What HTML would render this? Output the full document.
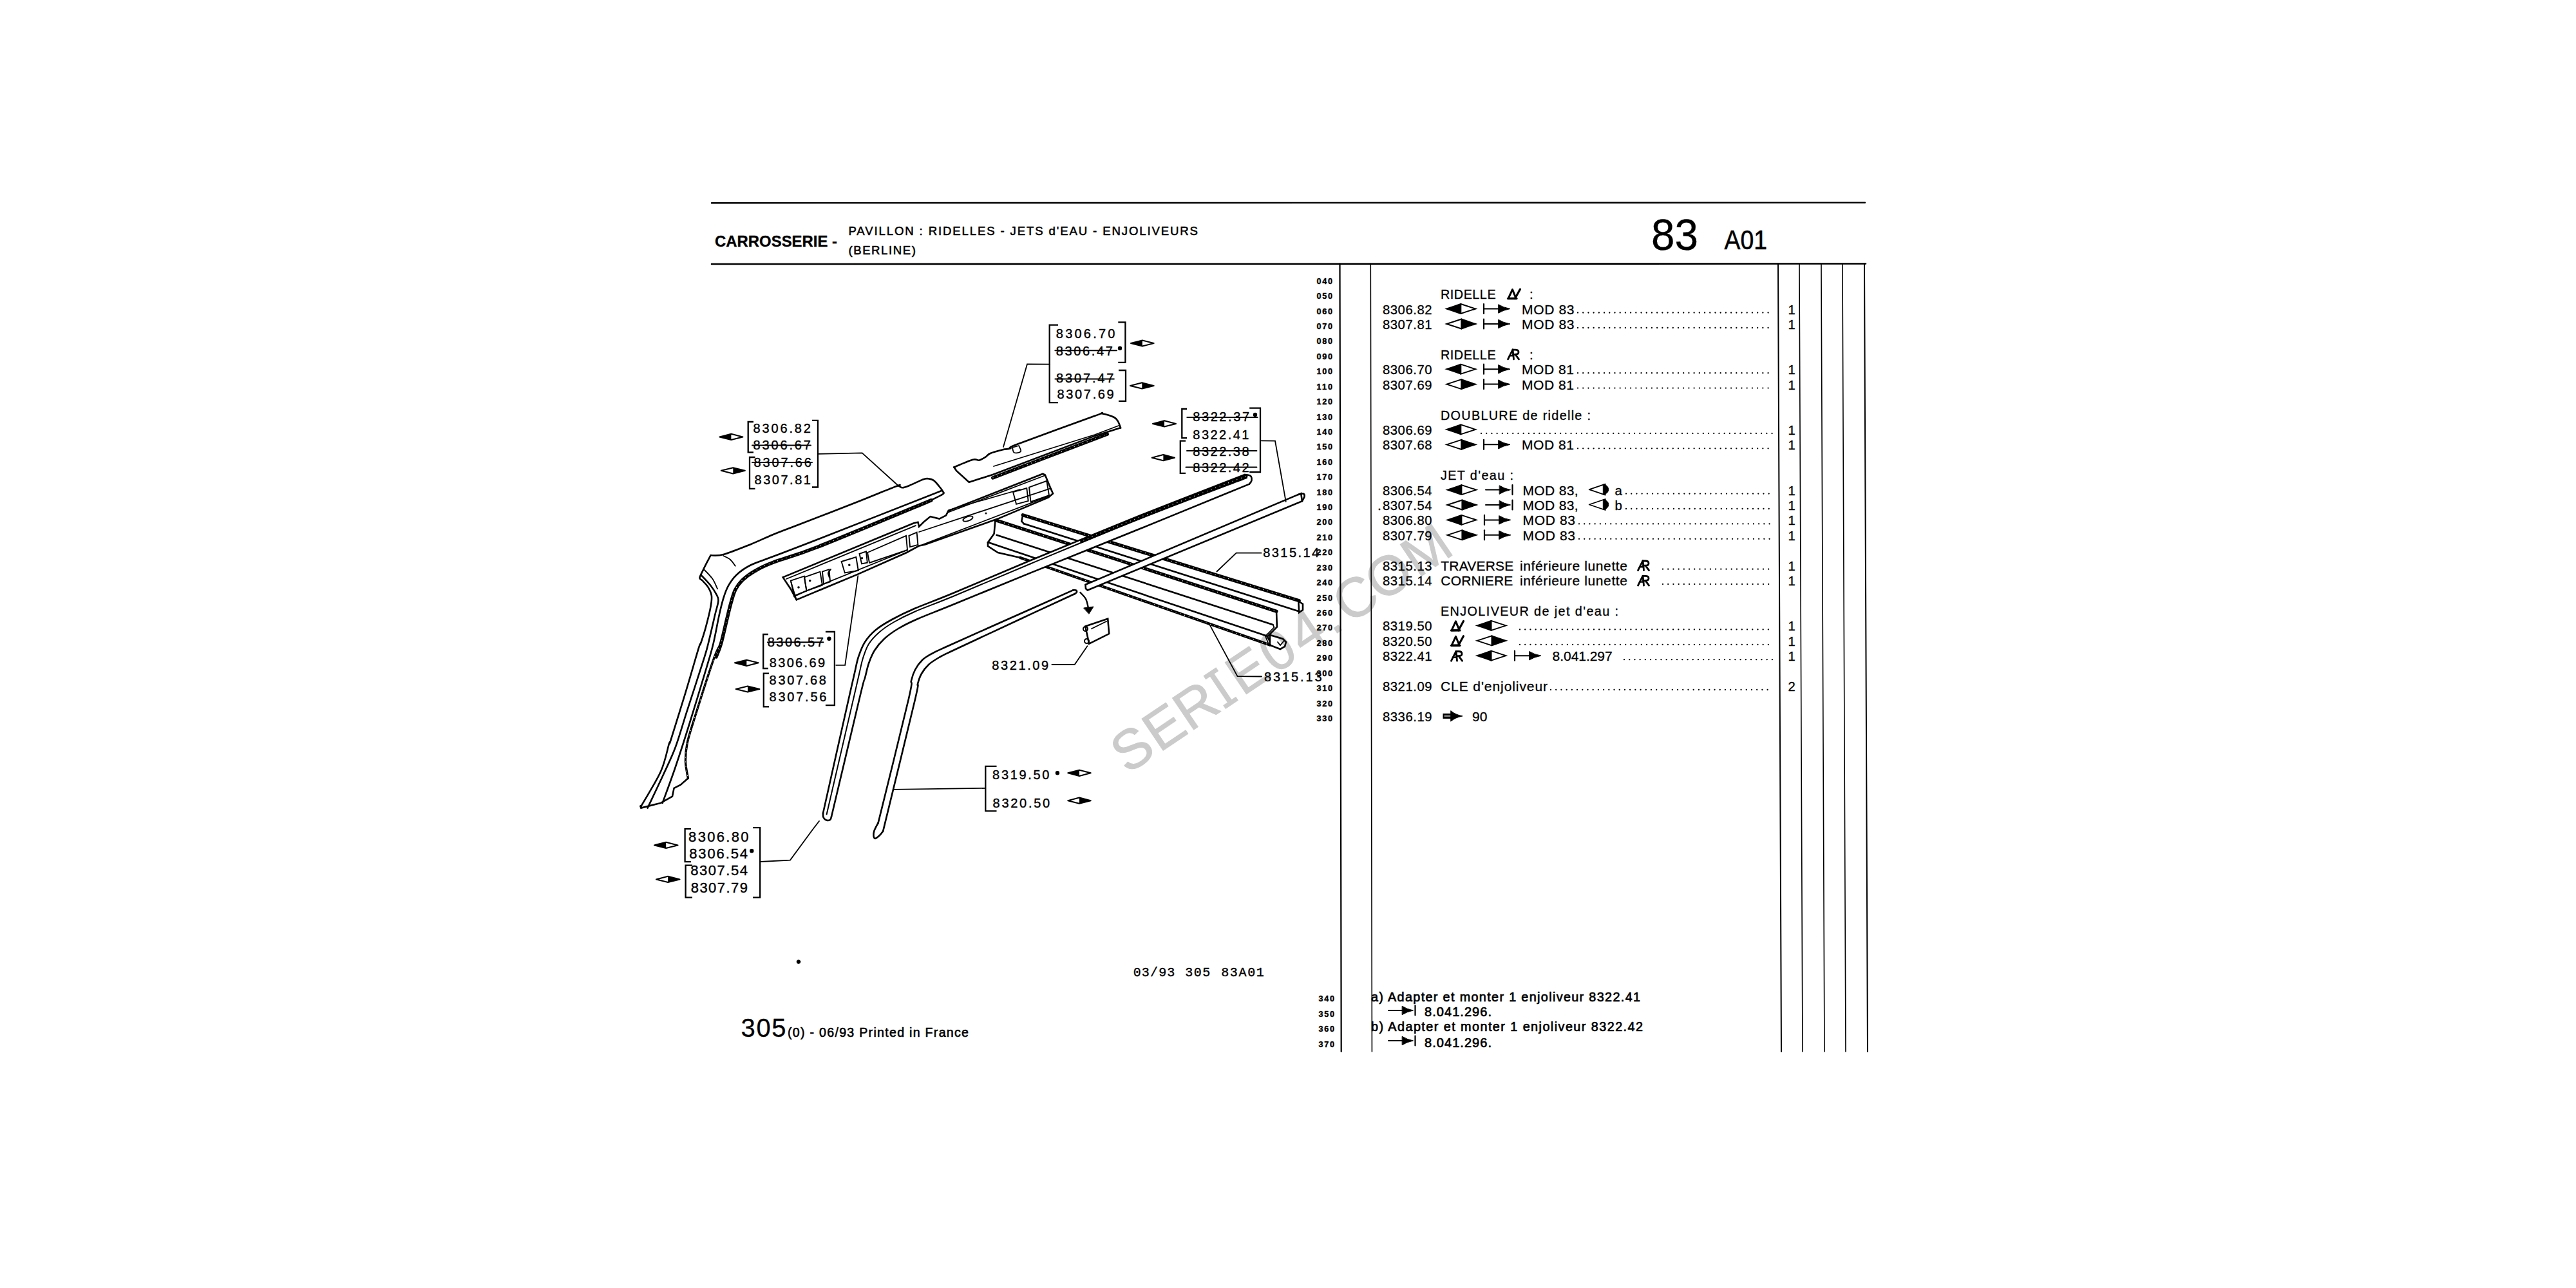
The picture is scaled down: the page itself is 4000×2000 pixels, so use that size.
<!DOCTYPE html>
<html><head><meta charset="utf-8"><style>
html,body{margin:0;padding:0;background:#fff;}
body{width:4000px;height:2000px;overflow:hidden;}
svg{display:block;font-family:"Liberation Sans",sans-serif;}
text{stroke:#000;stroke-width:0.3px;stroke-linejoin:round;}
.lab{stroke-width:0.4px;}
.thin{stroke-width:0.4px;}
</style></head><body>
<svg xmlns="http://www.w3.org/2000/svg" width="4000" height="2000" viewBox="0 0 4000 2000" stroke="#000" stroke-linecap="round" fill="#000">

<defs>
 <g id="dl">
  <path d="M1,0 Q12,-3.5 23,-7.5 L23,7.5 Q12,3.5 1,0Z" fill="#000" stroke="none"/>
  <path d="M1,0 Q12,-3.5 23,-7.5 Q35,-3.5 46,0 Q35,3.5 23,7.5 Q12,3.5 1,0Z" fill="none" stroke="#000" stroke-width="1.9"/>
  <line x1="23" y1="-7.5" x2="23" y2="7.5" stroke-width="2"/>
 </g>
 <g id="dr">
  <path d="M46,0 Q35,-3.5 24,-7.5 L24,7.5 Q35,3.5 46,0Z" fill="#000" stroke="none"/>
  <path d="M1,0 Q12,-3.5 24,-7.5 Q35,-3.5 46,0 Q35,3.5 24,7.5 Q12,3.5 1,0Z" fill="none" stroke="#000" stroke-width="1.9"/>
  <line x1="24" y1="-7.5" x2="24" y2="7.5" stroke-width="2"/>
 </g>
 <g id="bar">
  <line x1="1" y1="-7.5" x2="1" y2="7.5" stroke-width="2.2"/>
  <line x1="1" y1="0" x2="26" y2="0" stroke-width="2"/>
  <path d="M24,-6.5 Q31,-2 42,0 Q31,2 24,6.5Z" fill="#000" stroke="#000" stroke-width="1"/>
 </g>
 <g id="bar2">
  <line x1="0" y1="0" x2="24" y2="0" stroke-width="2"/>
  <path d="M21.5,-6.5 Q28.5,-2 38.5,0 Q28.5,2 21.5,6.5Z" fill="#000" stroke="#000" stroke-width="1"/>
  <line x1="41.5" y1="-7.5" x2="41.5" y2="7.5" stroke-width="2.2"/>
 </g>
 <g id="cone">
  <path d="M0,0 L25,-8.5 L25,8.5Z" fill="none" stroke="#000" stroke-width="1.8" stroke-linejoin="round"/>
  <path d="M22,-8 Q30,-6 30,0 Q30,6 22,8Z" fill="#000"/>
 </g>
 <g id="av">
  <path d="M1,15 L7.5,1 L13,14.5 Z" fill="none" stroke="#000" stroke-width="3" stroke-linejoin="round"/>
  <path d="M11.5,15 L19.5,0.5" stroke-width="3.2"/>
  <line x1="0.5" y1="15" x2="14" y2="15" stroke-width="3.2"/>
 </g>
 <g id="ar">
  <path d="M0.5,15.5 L8,0.5 L9.5,15.5" fill="none" stroke="#000" stroke-width="2.8" stroke-linejoin="round"/>
  <path d="M8,0.8 L12,0.8 Q17,0.8 17,4.5 Q17,8 12,8 L8.5,8 M12,8 L17.5,15.5" fill="none" stroke="#000" stroke-width="2.8"/>
  <line x1="3" y1="10" x2="9" y2="10" stroke-width="2.4"/>
 </g>
 <g id="thick">
  <rect x="0" y="-3.5" width="15" height="7" fill="#000"/>
  <line x1="2" y1="0" x2="13" y2="0" stroke="#fff" stroke-width="1.2"/>
  <path d="M12,-8 Q19,-2 30,0 Q19,2 12,8Z" fill="#000"/>
 </g>
</defs>

<g transform="translate(1739.2,1210.3) rotate(-34)"><text y="0" font-size="86" style="fill:#cbcbcb;stroke:#cbcbcb;stroke-width:1.0px"><tspan x="13.6 73.6 131">SER</tspan><tspan x="229.7 290.5 344.8 399.1 429.6 489.5 557.6">E04.COM</tspan></text><path d="M205,-58 h8 v58 h-8z M197,-61 h24 v7 h-24z M197,-6 h24 v7 h-24z" fill="#cbcbcb" stroke="none"/></g>
<g id="main">
<line x1="1105.0" y1="315.2" x2="2896.0" y2="314.6" stroke-width="2.4"/>
<line x1="1105.0" y1="410.0" x2="2897.0" y2="409.5" stroke-width="2.6"/>
<text x="1110.0" y="382.5" font-size="24" font-weight="bold" textLength="190.0" lengthAdjust="spacingAndGlyphs" style="stroke-width:0.35px">CARROSSERIE -</text>
<text x="1317.4" y="364.6" font-size="18.6" textLength="542.6" lengthAdjust="spacing" style="stroke-width:0.55px">PAVILLON : RIDELLES - JETS d'EAU - ENJOLIVEURS</text>
<text x="1317.4" y="394.8" font-size="18.6" textLength="104.5" lengthAdjust="spacing" style="stroke-width:0.55px">(BERLINE)</text>
<text x="2564.0" y="387.8" font-size="69" textLength="73.0" lengthAdjust="spacingAndGlyphs" style="stroke-width:0.3px">83</text>
<text x="2677.5" y="387.3" font-size="42" textLength="66.5" lengthAdjust="spacingAndGlyphs" style="stroke-width:0.6px">A01</text>
<line x1="2080.5" y1="409.5" x2="2082.7" y2="1633.0" stroke-width="2.2"/>
<line x1="2128.3" y1="409.5" x2="2130.4" y2="1633.0" stroke-width="1.6"/>
<line x1="2761.0" y1="409.5" x2="2766.0" y2="1633.0" stroke-width="2.0"/>
<line x1="2794.0" y1="409.5" x2="2799.0" y2="1633.0" stroke-width="1.6"/>
<line x1="2828.0" y1="409.5" x2="2833.0" y2="1633.0" stroke-width="1.6"/>
<line x1="2861.0" y1="409.5" x2="2866.0" y2="1633.0" stroke-width="1.6"/>
<line x1="2895.0" y1="409.5" x2="2900.0" y2="1633.0" stroke-width="2.0"/>
<text x="2044.5" y="440.7" font-size="12.6" font-weight="bold" textLength="24.5" lengthAdjust="spacing" class="thin">040</text>
<text x="2044.5" y="464.1" font-size="12.6" font-weight="bold" textLength="24.5" lengthAdjust="spacing" class="thin">050</text>
<text x="2044.5" y="487.5" font-size="12.6" font-weight="bold" textLength="24.5" lengthAdjust="spacing" class="thin">060</text>
<text x="2044.5" y="511.0" font-size="12.6" font-weight="bold" textLength="24.5" lengthAdjust="spacing" class="thin">070</text>
<text x="2044.5" y="534.4" font-size="12.6" font-weight="bold" textLength="24.5" lengthAdjust="spacing" class="thin">080</text>
<text x="2044.5" y="557.8" font-size="12.6" font-weight="bold" textLength="24.5" lengthAdjust="spacing" class="thin">090</text>
<text x="2044.5" y="581.2" font-size="12.6" font-weight="bold" textLength="24.5" lengthAdjust="spacing" class="thin">100</text>
<text x="2044.5" y="604.6" font-size="12.6" font-weight="bold" textLength="24.5" lengthAdjust="spacing" class="thin">110</text>
<text x="2044.5" y="628.1" font-size="12.6" font-weight="bold" textLength="24.5" lengthAdjust="spacing" class="thin">120</text>
<text x="2044.5" y="651.5" font-size="12.6" font-weight="bold" textLength="24.5" lengthAdjust="spacing" class="thin">130</text>
<text x="2044.5" y="674.9" font-size="12.6" font-weight="bold" textLength="24.5" lengthAdjust="spacing" class="thin">140</text>
<text x="2044.5" y="698.3" font-size="12.6" font-weight="bold" textLength="24.5" lengthAdjust="spacing" class="thin">150</text>
<text x="2044.5" y="721.7" font-size="12.6" font-weight="bold" textLength="24.5" lengthAdjust="spacing" class="thin">160</text>
<text x="2044.5" y="745.2" font-size="12.6" font-weight="bold" textLength="24.5" lengthAdjust="spacing" class="thin">170</text>
<text x="2044.5" y="768.6" font-size="12.6" font-weight="bold" textLength="24.5" lengthAdjust="spacing" class="thin">180</text>
<text x="2044.5" y="792.0" font-size="12.6" font-weight="bold" textLength="24.5" lengthAdjust="spacing" class="thin">190</text>
<text x="2044.5" y="815.4" font-size="12.6" font-weight="bold" textLength="24.5" lengthAdjust="spacing" class="thin">200</text>
<text x="2044.5" y="838.8" font-size="12.6" font-weight="bold" textLength="24.5" lengthAdjust="spacing" class="thin">210</text>
<text x="2044.5" y="862.3" font-size="12.6" font-weight="bold" textLength="24.5" lengthAdjust="spacing" class="thin">220</text>
<text x="2044.5" y="885.7" font-size="12.6" font-weight="bold" textLength="24.5" lengthAdjust="spacing" class="thin">230</text>
<text x="2044.5" y="909.1" font-size="12.6" font-weight="bold" textLength="24.5" lengthAdjust="spacing" class="thin">240</text>
<text x="2044.5" y="932.5" font-size="12.6" font-weight="bold" textLength="24.5" lengthAdjust="spacing" class="thin">250</text>
<text x="2044.5" y="955.9" font-size="12.6" font-weight="bold" textLength="24.5" lengthAdjust="spacing" class="thin">260</text>
<text x="2044.5" y="979.4" font-size="12.6" font-weight="bold" textLength="24.5" lengthAdjust="spacing" class="thin">270</text>
<text x="2044.5" y="1002.8" font-size="12.6" font-weight="bold" textLength="24.5" lengthAdjust="spacing" class="thin">280</text>
<text x="2044.5" y="1026.2" font-size="12.6" font-weight="bold" textLength="24.5" lengthAdjust="spacing" class="thin">290</text>
<text x="2044.5" y="1049.6" font-size="12.6" font-weight="bold" textLength="24.5" lengthAdjust="spacing" class="thin">300</text>
<text x="2044.5" y="1073.0" font-size="12.6" font-weight="bold" textLength="24.5" lengthAdjust="spacing" class="thin">310</text>
<text x="2044.5" y="1096.5" font-size="12.6" font-weight="bold" textLength="24.5" lengthAdjust="spacing" class="thin">320</text>
<text x="2044.5" y="1119.9" font-size="12.6" font-weight="bold" textLength="24.5" lengthAdjust="spacing" class="thin">330</text>
<text x="2047.5" y="1555.2" font-size="12.6" font-weight="bold" textLength="24.5" lengthAdjust="spacing" class="thin">340</text>
<text x="2047.5" y="1578.6" font-size="12.6" font-weight="bold" textLength="24.5" lengthAdjust="spacing" class="thin">350</text>
<text x="2047.5" y="1602.2" font-size="12.6" font-weight="bold" textLength="24.5" lengthAdjust="spacing" class="thin">360</text>
<text x="2047.5" y="1625.6" font-size="12.6" font-weight="bold" textLength="24.5" lengthAdjust="spacing" class="thin">370</text>
<text x="2237.0" y="464.1" font-size="19.8" textLength="85.6" lengthAdjust="spacing">RIDELLE</text>
<use href="#av" x="2341.0" y="448.6"/>
<text x="2375.0" y="464.1" font-size="20.4">:</text>
<text x="2147.0" y="487.5" font-size="20.3" textLength="76.5" lengthAdjust="spacing">8306.82</text>
<line x1="2450.0" y1="485.5" x2="2752" y2="485.5" stroke-width="2.3" stroke-dasharray="0.01 8.2"/>
<text x="2776.5" y="487.5" font-size="20.3">1</text>
<use href="#dl" x="2245.3" y="479.5"/>
<use href="#bar" x="2303.0" y="479.5"/>
<text x="2363.0" y="487.5" font-size="21" textLength="81.5" lengthAdjust="spacing">MOD 83</text>
<text x="2147.0" y="511.0" font-size="20.3" textLength="76.5" lengthAdjust="spacing">8307.81</text>
<line x1="2450.0" y1="509.0" x2="2752" y2="509.0" stroke-width="2.3" stroke-dasharray="0.01 8.2"/>
<text x="2776.5" y="511.0" font-size="20.3">1</text>
<use href="#dr" x="2245.3" y="503.0"/>
<use href="#bar" x="2303.0" y="503.0"/>
<text x="2363.0" y="511.0" font-size="21" textLength="81.5" lengthAdjust="spacing">MOD 83</text>
<text x="2237.0" y="557.8" font-size="19.8" textLength="85.6" lengthAdjust="spacing">RIDELLE</text>
<use href="#ar" x="2341.0" y="542.3"/>
<text x="2375.0" y="557.8" font-size="20.4">:</text>
<text x="2147.0" y="581.2" font-size="20.3" textLength="76.5" lengthAdjust="spacing">8306.70</text>
<line x1="2450.0" y1="579.2" x2="2752" y2="579.2" stroke-width="2.3" stroke-dasharray="0.01 8.2"/>
<text x="2776.5" y="581.2" font-size="20.3">1</text>
<use href="#dl" x="2245.3" y="573.2"/>
<use href="#bar" x="2303.0" y="573.2"/>
<text x="2363.0" y="581.2" font-size="21" textLength="81.0" lengthAdjust="spacing">MOD 81</text>
<text x="2147.0" y="604.6" font-size="20.3" textLength="76.5" lengthAdjust="spacing">8307.69</text>
<line x1="2450.0" y1="602.6" x2="2752" y2="602.6" stroke-width="2.3" stroke-dasharray="0.01 8.2"/>
<text x="2776.5" y="604.6" font-size="20.3">1</text>
<use href="#dr" x="2245.3" y="596.6"/>
<use href="#bar" x="2303.0" y="596.6"/>
<text x="2363.0" y="604.6" font-size="21" textLength="81.0" lengthAdjust="spacing">MOD 81</text>
<text x="2237.0" y="651.5" font-size="19.8" textLength="233.0" lengthAdjust="spacing">DOUBLURE de ridelle :</text>
<text x="2147.0" y="674.9" font-size="20.3" textLength="76.5" lengthAdjust="spacing">8306.69</text>
<line x1="2300.0" y1="672.9" x2="2752" y2="672.9" stroke-width="2.3" stroke-dasharray="0.01 8.2"/>
<text x="2776.5" y="674.9" font-size="20.3">1</text>
<use href="#dl" x="2245.3" y="666.9"/>
<text x="2147.0" y="698.3" font-size="20.3" textLength="76.5" lengthAdjust="spacing">8307.68</text>
<line x1="2450.0" y1="696.3" x2="2752" y2="696.3" stroke-width="2.3" stroke-dasharray="0.01 8.2"/>
<text x="2776.5" y="698.3" font-size="20.3">1</text>
<use href="#dr" x="2245.3" y="690.3"/>
<use href="#bar" x="2303.0" y="690.3"/>
<text x="2363.0" y="698.3" font-size="21" textLength="81.0" lengthAdjust="spacing">MOD 81</text>
<text x="2237.0" y="745.2" font-size="19.8" textLength="113.0" lengthAdjust="spacing">JET d'eau :</text>
<text x="2147.0" y="768.6" font-size="20.3" textLength="76.5" lengthAdjust="spacing">8306.54</text>
<line x1="2525.0" y1="766.6" x2="2752" y2="766.6" stroke-width="2.3" stroke-dasharray="0.01 8.2"/>
<text x="2776.5" y="768.6" font-size="20.3">1</text>
<use href="#dl" x="2246.4" y="760.6"/>
<use href="#bar2" x="2307.0" y="760.6"/>
<text x="2364.5" y="768.6" font-size="21" textLength="86.0" lengthAdjust="spacing">MOD 83,</text>
<use href="#cone" x="2467.7" y="760.1"/>
<text x="2507.5" y="768.6" font-size="20.4">a</text>
<text x="2147.0" y="792.0" font-size="20.3" textLength="76.5" lengthAdjust="spacing">8307.54</text>
<line x1="2525.0" y1="790.0" x2="2752" y2="790.0" stroke-width="2.3" stroke-dasharray="0.01 8.2"/>
<text x="2776.5" y="792.0" font-size="20.3">1</text>
<text x="2139.0" y="792.0" font-size="21">.</text>
<use href="#dr" x="2246.4" y="784.0"/>
<use href="#bar2" x="2307.0" y="784.0"/>
<text x="2364.5" y="792.0" font-size="21" textLength="86.0" lengthAdjust="spacing">MOD 83,</text>
<use href="#cone" x="2467.7" y="783.5"/>
<text x="2507.5" y="792.0" font-size="20.4">b</text>
<text x="2147.0" y="815.4" font-size="20.3" textLength="76.5" lengthAdjust="spacing">8306.80</text>
<line x1="2452.0" y1="813.4" x2="2752" y2="813.4" stroke-width="2.3" stroke-dasharray="0.01 8.2"/>
<text x="2776.5" y="815.4" font-size="20.3">1</text>
<use href="#dl" x="2246.4" y="807.4"/>
<use href="#bar" x="2304.0" y="807.4"/>
<text x="2364.5" y="815.4" font-size="21" textLength="81.5" lengthAdjust="spacing">MOD 83</text>
<text x="2147.0" y="838.8" font-size="20.3" textLength="76.5" lengthAdjust="spacing">8307.79</text>
<line x1="2452.0" y1="836.8" x2="2752" y2="836.8" stroke-width="2.3" stroke-dasharray="0.01 8.2"/>
<text x="2776.5" y="838.8" font-size="20.3">1</text>
<use href="#dr" x="2246.4" y="830.8"/>
<use href="#bar" x="2304.0" y="830.8"/>
<text x="2364.5" y="838.8" font-size="21" textLength="81.5" lengthAdjust="spacing">MOD 83</text>
<text x="2147.0" y="885.7" font-size="20.3" textLength="76.5" lengthAdjust="spacing">8315.13</text>
<line x1="2582.0" y1="883.7" x2="2752" y2="883.7" stroke-width="2.3" stroke-dasharray="0.01 8.2"/>
<text x="2776.5" y="885.7" font-size="20.3">1</text>
<text x="2237.3" y="885.7" font-size="21" textLength="113.0" lengthAdjust="spacing">TRAVERSE</text>
<text x="2360.0" y="885.7" font-size="21" textLength="167.0" lengthAdjust="spacing">inférieure lunette</text>
<use href="#ar" x="2543.0" y="870.2"/>
<text x="2147.0" y="909.1" font-size="20.3" textLength="76.5" lengthAdjust="spacing">8315.14</text>
<line x1="2582.0" y1="907.1" x2="2752" y2="907.1" stroke-width="2.3" stroke-dasharray="0.01 8.2"/>
<text x="2776.5" y="909.1" font-size="20.3">1</text>
<text x="2237.3" y="909.1" font-size="21" textLength="112.0" lengthAdjust="spacing">CORNIERE</text>
<text x="2360.0" y="909.1" font-size="21" textLength="167.0" lengthAdjust="spacing">inférieure lunette</text>
<use href="#ar" x="2543.0" y="893.6"/>
<text x="2237.0" y="955.9" font-size="19.8" textLength="276.0" lengthAdjust="spacing">ENJOLIVEUR de jet d'eau :</text>
<text x="2147.0" y="979.4" font-size="20.3" textLength="76.5" lengthAdjust="spacing">8319.50</text>
<line x1="2360.0" y1="977.4" x2="2752" y2="977.4" stroke-width="2.3" stroke-dasharray="0.01 8.2"/>
<text x="2776.5" y="979.4" font-size="20.3">1</text>
<use href="#av" x="2253.0" y="963.9"/>
<use href="#dl" x="2292.5" y="971.4"/>
<text x="2147.0" y="1002.8" font-size="20.3" textLength="76.5" lengthAdjust="spacing">8320.50</text>
<line x1="2360.0" y1="1000.8" x2="2752" y2="1000.8" stroke-width="2.3" stroke-dasharray="0.01 8.2"/>
<text x="2776.5" y="1002.8" font-size="20.3">1</text>
<use href="#av" x="2253.0" y="987.3"/>
<use href="#dr" x="2292.5" y="994.8"/>
<text x="2147.0" y="1026.2" font-size="20.3" textLength="76.5" lengthAdjust="spacing">8322.41</text>
<line x1="2522.0" y1="1024.2" x2="2752" y2="1024.2" stroke-width="2.3" stroke-dasharray="0.01 8.2"/>
<text x="2776.5" y="1026.2" font-size="20.3">1</text>
<use href="#ar" x="2253.0" y="1010.7"/>
<use href="#dl" x="2292.5" y="1018.2"/>
<use href="#bar" x="2351.0" y="1018.2"/>
<text x="2410.6" y="1026.2" font-size="21" textLength="93.0" lengthAdjust="spacing">8.041.297</text>
<text x="2147.0" y="1073.0" font-size="20.3" textLength="76.5" lengthAdjust="spacing">8321.09</text>
<line x1="2408.0" y1="1071.0" x2="2752" y2="1071.0" stroke-width="2.3" stroke-dasharray="0.01 8.2"/>
<text x="2776.5" y="1073.0" font-size="20.3">2</text>
<text x="2237.0" y="1073.0" font-size="21" textLength="166.0" lengthAdjust="spacing">CLE d'enjoliveur</text>
<text x="2147.0" y="1119.9" font-size="20.3" textLength="76.5" lengthAdjust="spacing">8336.19</text>
<use href="#thick" x="2241.0" y="1111.9"/>
<text x="2286.0" y="1119.9" font-size="21">90</text>
<text x="2129.0" y="1554.5" font-size="19.8" textLength="418.0" lengthAdjust="spacing" style="stroke-width:0.7px">a) Adapter et monter 1 enjoliveur 8322.41</text>
<use href="#bar2" x="2156.0" y="1569.0"/>
<text x="2212.0" y="1578.2" font-size="20" textLength="104.0" lengthAdjust="spacing" style="stroke-width:0.7px">8.041.296.</text>
<text x="2129.0" y="1601.2" font-size="19.8" textLength="422.0" lengthAdjust="spacing" style="stroke-width:0.7px">b) Adapter et monter 1 enjoliveur 8322.42</text>
<use href="#bar2" x="2156.0" y="1616.0"/>
<text x="2212.0" y="1625.5" font-size="20" textLength="104.0" lengthAdjust="spacing" style="stroke-width:0.7px">8.041.296.</text>
<path d="M1545.5,807.5 L1982.0,949.2" stroke-width="5.2" fill="none"/>
<path d="M1545.5,807.5 L1982.0,949.2" stroke-width="1.1" fill="none" stroke="#fff" stroke-dasharray="1.1 6" stroke-linecap="butt"/>
<path d="M1547.5,830.8 L1976.5,969.9" stroke-width="2.6" fill="none"/>
<path d="M1534.0,842.0 L1967.0,987.6" stroke-width="2.6" fill="none"/>
<path d="M1584.3,866.0 L1971.8,1001.6" stroke-width="4.2" fill="none"/>
<path d="M1584.3,866.0 L1971.8,1001.6" stroke-width="1.1" fill="none" stroke="#fff" stroke-dasharray="1.1 6" stroke-linecap="butt"/>
<path d="M1545.5,807.5 L1543.6,828.8 L1533.9,842.4 L1534.0,848.0 L1549.4,858.0 L1584.3,866.0" stroke-width="2.6" fill="none"/>
<path d="M1982.0,948.4 L1982.9,973.6 L1968.0,988.5 L1971.8,996.0" stroke-width="2.6" fill="none"/>
<path d="M1976.5,969.9 L1978.5,974.0 L1965.0,988.0 L1969.0,998.0" stroke-width="1.8" fill="none"/>
<path d="M1972.0,986.0 L1992.0,992.0 L1997.0,997.0 L1995.0,1004.0 L1988.0,1008.0 L1971.8,1001.6 Z" stroke-width="2.6" fill="none"/>
<path d="M1984.0,997.0 L1988.0,1002.0 L1993.0,996.0" stroke-width="1.8" fill="none"/>
<path d="M1588.2,799.7 L2017.2,932.7" stroke-width="5.2" fill="none"/>
<path d="M1588.2,799.7 L2017.2,932.7" stroke-width="1.1" fill="none" stroke="#fff" stroke-dasharray="1.1 6" stroke-linecap="butt"/>
<path d="M1590.0,813.3 L2016.0,949.0" stroke-width="2.6" fill="none"/>
<path d="M1588.2,799.7 L1586.3,809.4 L1590.0,813.3" stroke-width="2.6" fill="none"/>
<path d="M2016.2,932.7 L2017.2,951.0 L2023.0,947.0 L2023.0,938.0 L2017.0,934.0" stroke-width="2.6" fill="none"/>
<path d="M1933.0,737.0 L1770.8,800.3 L1600.0,870.3 L1480.0,921.0 L1420.0,945.0 L1385.0,962.0 L1360.0,978.0 L1343.0,997.0 L1333.0,1020.0 L1327.0,1045.0 L1319.0,1080.0 L1278.0,1262.7 L1291.0,1268.3 L1335.7,1080.0 L1343.0,1053.0 L1349.0,1030.0 L1358.0,1010.0 L1373.0,992.0 L1395.0,976.0 L1425.0,961.0 L1480.0,938.8 L1600.0,889.6 L1770.8,820.8 L1940.0,751.6 Z" stroke-width="0" fill="#fff" stroke="none"/>
<path d="M1933.0,737.0 C1906.0,747.5 1826.3,778.1 1770.8,800.3 C1715.3,822.5 1648.5,850.2 1600.0,870.3 C1551.5,890.4 1510.0,908.5 1480.0,921.0 C1450.0,933.5 1435.8,938.2 1420.0,945.0 C1404.2,951.8 1395.0,956.5 1385.0,962.0 C1375.0,967.5 1367.0,972.2 1360.0,978.0 C1353.0,983.8 1347.5,990.0 1343.0,997.0 C1338.5,1004.0 1335.7,1012.0 1333.0,1020.0 C1330.3,1028.0 1329.3,1035.0 1327.0,1045.0 C1324.7,1055.0 1327.2,1043.7 1319.0,1080.0 C1310.8,1116.3 1284.8,1232.2 1278.0,1262.7" stroke-width="2.6" fill="none"/>
<path d="M1940.0,751.6 C1911.8,763.1 1827.5,797.8 1770.8,820.8 C1714.1,843.8 1648.5,869.9 1600.0,889.6 C1551.5,909.3 1509.2,926.9 1480.0,938.8 C1450.8,950.7 1439.2,954.8 1425.0,961.0 C1410.8,967.2 1403.7,970.8 1395.0,976.0 C1386.3,981.2 1379.2,986.3 1373.0,992.0 C1366.8,997.7 1362.0,1003.7 1358.0,1010.0 C1354.0,1016.3 1351.5,1022.8 1349.0,1030.0 C1346.5,1037.2 1345.2,1044.7 1343.0,1053.0 C1340.8,1061.3 1344.4,1044.1 1335.7,1080.0 C1327.0,1115.9 1298.5,1236.9 1291.0,1268.3" stroke-width="2.6" fill="none"/>
<path d="M1278.0,1262.7 C1278.1,1263.8 1277.7,1267.2 1278.5,1269.0 C1279.3,1270.8 1281.2,1272.8 1283.0,1273.5 C1284.8,1274.2 1287.7,1273.9 1289.0,1273.0 C1290.3,1272.1 1290.7,1269.1 1291.0,1268.3" stroke-width="2.6" fill="none"/>
<path d="M1933.0,737.0 C1934.4,737.3 1939.8,737.3 1941.6,738.8 C1943.3,740.3 1943.8,743.9 1943.5,746.0 C1943.2,748.1 1940.6,750.7 1940.0,751.6" stroke-width="2.6" fill="none"/>
<path d="M1936.0,742.0 C1908.5,752.5 1826.8,783.0 1770.8,805.3 C1714.8,827.5 1648.5,855.4 1600.0,875.5 C1551.5,895.6 1510.0,913.6 1480.0,926.0 C1450.0,938.4 1435.3,943.3 1420.0,950.0 C1404.7,956.7 1397.2,960.7 1388.0,966.0 C1378.8,971.3 1371.5,976.3 1365.0,982.0 C1358.5,987.7 1353.2,993.3 1349.0,1000.0 C1344.8,1006.7 1342.5,1014.2 1340.0,1022.0 C1337.5,1029.8 1336.3,1037.3 1334.0,1047.0 C1331.7,1056.7 1334.8,1043.8 1326.4,1080.0 C1318.0,1116.2 1290.7,1233.8 1283.6,1264.5" stroke-width="2.0" fill="none"/>
<path d="M1934.5,739.5 C1907.2,750.0 1813.2,786.0 1770.8,802.8 C1728.4,819.5 1695.1,833.8 1680.0,840.0" stroke-width="5.8" fill="none"/>
<path d="M1934.5,739.5 C1907.2,750.0 1813.2,786.0 1770.8,802.8 C1728.4,819.5 1695.1,833.8 1680.0,840.0" stroke-width="1.1" fill="none" stroke="#fff" stroke-dasharray="1.1 6" stroke-linecap="butt"/>
<path d="M2020.2,766.1 L1685.4,907.9 L1686.0,914.0 L1688.8,916.4 L2021.9,778.1 Z" stroke-width="2.6" fill="#fff"/>
<path d="M2016.0,768.0 C2017.3,767.8 2022.0,766.0 2023.6,766.5 C2025.2,767.0 2025.8,769.1 2025.5,771.0 C2025.2,772.9 2022.5,776.9 2021.9,778.1" stroke-width="2.6" fill="none"/>
<path d="M1666.3,916.4 L1568.5,960.0 L1470.0,1004.0 L1447.0,1015.0 L1432.0,1025.0 L1421.0,1040.0 L1415.0,1057.0 L1411.0,1085.0 L1363.7,1277.6 L1371.2,1290.6 L1420.5,1088.0 L1425.0,1062.0 L1431.0,1046.0 L1442.0,1032.0 L1458.0,1021.0 L1480.0,1010.0 L1587.1,960.0 L1669.1,922.0 Z" stroke-width="0" fill="#fff" stroke="none"/>
<path d="M1666.3,916.4 C1650.0,923.7 1601.2,945.4 1568.5,960.0 C1535.8,974.6 1490.2,994.8 1470.0,1004.0 C1449.8,1013.2 1453.3,1011.5 1447.0,1015.0 C1440.7,1018.5 1436.3,1020.8 1432.0,1025.0 C1427.7,1029.2 1423.8,1034.7 1421.0,1040.0 C1418.2,1045.3 1416.7,1049.5 1415.0,1057.0 C1413.3,1064.5 1419.5,1048.2 1411.0,1085.0 C1402.5,1121.8 1371.6,1245.5 1363.7,1277.6" stroke-width="2.6" fill="none"/>
<path d="M1669.1,922.0 C1655.4,928.3 1618.6,945.3 1587.1,960.0 C1555.6,974.7 1501.5,999.8 1480.0,1010.0 C1458.5,1020.2 1464.3,1017.3 1458.0,1021.0 C1451.7,1024.7 1446.5,1027.8 1442.0,1032.0 C1437.5,1036.2 1433.8,1041.0 1431.0,1046.0 C1428.2,1051.0 1426.8,1055.0 1425.0,1062.0 C1423.2,1069.0 1429.5,1049.9 1420.5,1088.0 C1411.5,1126.1 1379.4,1256.8 1371.2,1290.6" stroke-width="2.6" fill="none"/>
<path d="M1363.7,1277.6 C1362.7,1279.7 1358.7,1286.6 1357.5,1290.0 C1356.3,1293.4 1356.2,1296.0 1356.5,1298.0 C1356.8,1300.0 1357.4,1302.2 1359.0,1302.0 C1360.6,1301.8 1364.0,1298.9 1366.0,1297.0 C1368.0,1295.1 1370.3,1291.7 1371.2,1290.6" stroke-width="2.6" fill="none"/>
<path d="M1666.3,916.4 C1667.0,916.4 1669.5,916.0 1670.5,916.5 C1671.5,917.0 1672.2,918.6 1672.0,919.5 C1671.8,920.4 1669.6,921.6 1669.1,922.0" stroke-width="2.6" fill="none"/>
<path d="M1103.5,862.3 C1106.8,862.1 1113.0,863.9 1123.3,861.0 C1133.6,858.1 1152.8,850.3 1165.6,845.2 C1178.4,840.1 1187.6,835.4 1200.0,830.3 C1212.4,825.2 1219.0,822.9 1240.0,814.8 C1261.0,806.7 1300.6,791.4 1325.8,781.5 C1351.0,771.6 1379.7,759.6 1391.4,755.2 C1403.1,750.8 1394.3,754.6 1396.0,755.0 C1397.7,755.4 1398.9,757.4 1401.5,757.3 C1404.1,757.2 1406.5,756.2 1411.6,754.2 C1416.6,752.2 1427.1,747.0 1431.8,745.1 C1436.5,743.2 1436.8,742.9 1439.8,743.1 C1442.8,743.3 1446.6,743.7 1450.0,746.1 C1453.4,748.5 1457.7,754.4 1460.0,757.3 C1462.3,760.2 1463.4,761.6 1464.1,763.3 C1464.8,765.0 1467.1,765.1 1464.1,767.3 C1461.1,769.5 1449.0,775.0 1446.0,776.5" stroke-width="2.6" fill="none"/>
<path d="M1461.4,762.3 C1429.7,774.8 1314.8,820.0 1271.2,837.0 C1227.6,854.0 1217.6,857.5 1200.0,864.3 C1182.4,871.0 1174.9,872.9 1165.6,877.5 C1156.3,882.1 1150.1,886.7 1144.4,892.0 C1138.7,897.3 1134.7,903.0 1131.2,909.2 C1127.7,915.4 1125.7,921.3 1123.3,929.0 C1120.9,936.7 1119.3,943.5 1116.7,955.3 C1114.1,967.1 1110.7,986.8 1107.5,1000.0 C1104.3,1013.2 1104.1,1013.2 1097.8,1034.3 C1091.5,1055.4 1077.8,1100.5 1069.7,1126.5 C1061.6,1152.5 1055.8,1170.4 1049.0,1190.5 C1042.2,1210.6 1032.1,1237.5 1028.7,1246.9" stroke-width="2.6" fill="none"/>
<path d="M1445.8,776.9 C1416.7,788.9 1312.2,832.6 1271.2,848.7 C1230.2,864.8 1216.5,867.2 1200.0,873.5 C1183.5,879.8 1180.1,882.1 1172.2,886.7 C1164.3,891.3 1157.5,896.4 1152.4,901.2 C1147.3,906.1 1144.7,910.1 1141.8,915.8 C1138.9,921.5 1137.4,927.9 1135.2,935.6 C1133.0,943.3 1131.2,951.3 1128.6,962.0 C1126.0,972.7 1122.2,990.3 1119.4,1000.0 C1116.6,1009.7 1113.2,1016.7 1112.0,1020.0" stroke-width="5.5" fill="none"/>
<path d="M1445.8,776.9 C1416.7,788.9 1312.2,832.6 1271.2,848.7 C1230.2,864.8 1216.5,867.2 1200.0,873.5 C1183.5,879.8 1180.1,882.1 1172.2,886.7 C1164.3,891.3 1157.5,896.4 1152.4,901.2 C1147.3,906.1 1144.7,910.1 1141.8,915.8 C1138.9,921.5 1137.4,927.9 1135.2,935.6 C1133.0,943.3 1131.2,951.3 1128.6,962.0 C1126.0,972.7 1122.2,990.3 1119.4,1000.0 C1116.6,1009.7 1113.2,1016.7 1112.0,1020.0" stroke-width="1.1" fill="none" stroke="#fff" stroke-dasharray="1.1 6" stroke-linecap="butt"/>
<path d="M1119.4,1000.0 C1117.5,1004.0 1115.0,1004.2 1108.0,1024.0 C1101.0,1043.8 1084.1,1097.0 1077.3,1118.8 C1070.5,1140.6 1069.1,1144.0 1067.0,1154.7 C1064.9,1165.4 1064.3,1173.8 1064.5,1182.8 C1064.7,1191.8 1067.8,1204.2 1068.4,1208.5" stroke-width="3.4" fill="none"/>
<path d="M1119.4,1000.0 C1117.5,1004.0 1115.0,1004.2 1108.0,1024.0 C1101.0,1043.8 1084.1,1097.0 1077.3,1118.8 C1070.5,1140.6 1069.1,1144.0 1067.0,1154.7 C1064.9,1165.4 1064.3,1173.8 1064.5,1182.8 C1064.7,1191.8 1067.8,1204.2 1068.4,1208.5" stroke-width="1.1" fill="none" stroke="#fff" stroke-dasharray="1.1 6" stroke-linecap="butt"/>
<path d="M1103.5,862.3 C1102.6,863.9 1100.3,868.4 1098.3,872.2 C1096.3,876.1 1093.7,881.2 1091.7,885.4 C1089.7,889.6 1086.6,894.7 1086.4,897.3 C1086.2,899.9 1088.1,898.8 1090.3,901.2 C1092.5,903.6 1097.2,907.8 1099.6,911.8 C1102.0,915.8 1104.2,919.9 1104.9,925.0 C1105.6,930.1 1105.0,933.9 1103.5,942.2 C1102.0,950.6 1098.2,965.5 1095.6,975.1 C1093.0,984.7 1089.5,994.9 1087.7,1000.0 C1085.9,1005.1 1088.9,993.5 1085.0,1006.0 C1081.1,1018.5 1071.8,1051.4 1064.5,1075.3 C1057.2,1099.2 1045.8,1136.3 1041.5,1149.5 C1037.2,1162.7 1041.6,1146.6 1039.0,1154.7 C1036.4,1162.8 1033.3,1181.8 1026.0,1198.0 C1018.7,1214.2 1000.5,1243.0 995.4,1252.0" stroke-width="2.6" fill="none"/>
<path d="M1089.0,893.3 C1091.4,895.9 1099.7,904.4 1103.5,909.2 C1107.3,914.1 1110.1,918.5 1112.1,922.4 C1114.1,926.3 1115.7,927.4 1115.4,932.9 C1115.1,938.4 1112.7,944.1 1110.1,955.3 C1107.5,966.5 1102.5,988.5 1099.6,1000.0 C1096.7,1011.5 1098.1,1006.8 1092.7,1024.0 C1087.3,1041.2 1074.3,1080.8 1067.0,1103.4 C1059.7,1126.0 1055.0,1143.6 1049.0,1159.8 C1043.0,1176.0 1038.2,1185.0 1031.0,1200.8 C1023.8,1216.6 1009.8,1245.6 1005.6,1254.6" stroke-width="2.6" fill="none"/>
<path d="M1093.0,884.1 C1095.2,886.5 1102.7,893.6 1106.2,898.6 C1109.7,903.6 1112.8,911.8 1114.1,914.4" stroke-width="1.8" fill="none"/>
<path d="M1068.4,1208.5 L1056.8,1218.7 L1046.6,1223.8 L1044.0,1236.6 L1026.0,1246.9 L995.4,1254.6 L994.0,1250.7 L995.4,1252.0" stroke-width="2.6" fill="none"/>
<path d="M1123.3,863.0 C1125.1,864.0 1130.9,866.4 1134.0,869.0 C1137.1,871.6 1140.5,877.2 1141.8,878.8" stroke-width="1.8" fill="none"/>
<path d="M1215.7,896.4 L1418.4,812.6 L1425.4,810.8 L1427.1,817.8 L1434.1,810.8 L1444.6,802.1 L1458.6,805.6 L1469.0,800.4 L1472.5,793.4 L1619.3,735.7 L1622.8,737.5 L1631.5,758.4 L1635.0,766.3 L1628.0,772.4 L1549.4,805.6 L1435.9,845.8 L1427.1,847.5 L1407.9,858.0 L1331.0,892.1 L1236.7,931.4 L1228.0,915.0 L1215.7,896.4 Z" stroke-width="2.6" fill="#fff"/>
<path d="M1221.0,899.0 L1421.9,816.1" stroke-width="1.8" fill="none"/>
<path d="M1228.0,903.0 L1236.7,931.4" stroke-width="1.8" fill="none"/>
<path d="M1234.9,924.4 L1407.9,854.5" stroke-width="1.8" fill="none"/>
<path d="M1472.5,795.5 L1622.0,738.5" stroke-width="1.8" fill="none"/>
<path d="M1427.1,826.0 L1631.5,758.4" stroke-width="1.8" fill="none"/>
<path d="M1432.4,845.8 L1628.0,770.7" stroke-width="1.8" fill="none"/>
<path d="M1228.0,901.7 L1248.9,894.7 L1252.4,917.4 L1233.2,926.1 Z" stroke-width="1.9" fill="none"/>
<path d="M1248.9,896.4 L1273.4,887.7 L1276.9,908.7 L1252.4,917.4 Z" stroke-width="1.9" fill="none"/>
<path d="M1276.9,887.7 L1287.4,884.2 L1289.1,903.4 L1279.0,907.0 Z" stroke-width="1.9" fill="none"/>
<path d="M1306.6,872.0 L1329.3,865.0 L1332.8,886.0 L1311.8,889.5 Z" stroke-width="1.9" fill="none"/>
<path d="M1334.5,859.8 L1345.0,856.3 L1346.8,873.7 L1338.0,875.5 Z" stroke-width="1.9" fill="none"/>
<path d="M1347.0,858.0 L1407.0,832.0 L1409.0,854.0 L1350.0,874.0 Z" stroke-width="1.9" fill="none"/>
<path d="M1411.4,831.8 L1423.6,826.6 L1425.4,845.8 L1413.1,849.3 Z" stroke-width="1.9" fill="none"/>
<path d="M1598.0,756.7 L1625.3,746.8 L1629.0,769.2 L1600.5,779.1 Z" stroke-width="1.9" fill="none"/>
<path d="M1573.1,764.2 L1594.3,758.0 L1596.7,777.9 L1578.1,782.8 Z" stroke-width="1.9" fill="none"/>
<ellipse cx="1503" cy="805.5" rx="8" ry="3.3" transform="rotate(-20 1503 805.5)" fill="none" stroke-width="1.9"/>
<circle cx="1531" cy="797" r="1.5" fill="#000" stroke="none"/>
<circle cx="1240" cy="912" r="1.8" fill="#000" stroke="none"/>
<circle cx="1257.7" cy="901.7" r="1.8" fill="#000" stroke="none"/>
<circle cx="1318.8" cy="877.2" r="1.8" fill="#000" stroke="none"/>
<circle cx="1338.5" cy="866.7" r="1.8" fill="#000" stroke="none"/>
<path d="M1290.0,884.0 C1289.3,885.0 1286.3,887.8 1286.0,890.0 C1285.7,892.2 1287.7,895.8 1288.0,897.0" stroke-width="2.0" fill="none"/>
<path d="M1473.0,792.0 L1584.0,760.0" stroke-width="1.6" fill="none"/>
<path d="M1481.4,725.4 C1486.3,723.5 1504.1,715.6 1510.6,713.8 C1517.1,712.0 1517.1,715.4 1520.3,714.7 C1523.5,714.1 1527.1,711.7 1530.0,709.9 C1532.9,708.1 1533.2,706.0 1537.7,704.0 C1542.2,702.0 1551.9,699.5 1557.1,698.2 C1562.3,696.9 1564.9,697.8 1568.8,696.3 C1572.7,694.8 1558.5,697.9 1580.4,689.5 C1602.3,681.1 1678.2,653.7 1700.0,645.8 C1721.8,637.9 1706.1,641.9 1711.1,642.3 C1716.1,642.7 1725.8,645.9 1730.0,648.0 C1734.2,650.1 1734.6,652.1 1736.3,654.9 C1738.0,657.7 1739.5,663.0 1740.2,664.6" stroke-width="2.6" fill="none"/>
<path d="M1481.4,725.4 L1485.3,731.2 L1504.7,748.7 L1541.6,737.0 L1700.0,676.9 L1739.2,664.6" stroke-width="2.6" fill="none"/>
<path d="M1541.6,742.0 C1568.0,731.9 1670.5,692.8 1700.0,681.5 C1729.5,670.2 1715.8,675.5 1718.9,674.3" stroke-width="5.2" fill="none"/>
<path d="M1541.6,742.0 C1568.0,731.9 1670.5,692.8 1700.0,681.5 C1729.5,670.2 1715.8,675.5 1718.9,674.3" stroke-width="1.1" fill="none" stroke="#fff" stroke-dasharray="1.1 6" stroke-linecap="butt"/>
<path d="M1543.0,724.0 L1700.0,675.0 L1737.0,661.0" stroke-width="1.8" fill="none"/>
<path d="M1572.0,695.0 C1572.5,696.3 1572.8,702.0 1575.0,703.0 C1577.2,704.0 1583.8,702.8 1585.0,701.0 C1586.2,699.2 1582.5,693.5 1582.0,692.0 Z" stroke-width="1.8" fill="none"/>
<path d="M1685.3,972.5 L1720.2,960.8 L1722.2,984.1 L1691.1,999.6 Z" stroke-width="2.6" fill="#fff"/>
<path d="M1695.0,976.3 L1718.3,964.7" stroke-width="1.8" fill="none"/>
<circle cx="1685.5" cy="976.5" r="3.5" fill="none" stroke-width="2"/>
<circle cx="1687.5" cy="995.5" r="3.5" fill="none" stroke-width="2"/>
<path d="M1677.5,920.0 C1678.9,921.7 1683.9,926.0 1686.0,930.0 C1688.1,934.0 1689.3,941.7 1690.0,944.0" stroke-width="2.4" fill="none"/>
<path d="M1683,944 L1698,942 L1691,953 Z" fill="#000" stroke-width="1"/>
<text class="lab" x="1169.6" y="672.1" font-size="20" textLength="89.3" lengthAdjust="spacing">8306.82</text>
<text class="lab" x="1169.6" y="697.7" font-size="20" textLength="89.3" lengthAdjust="spacing">8306.67</text>
<line x1="1168.0" y1="691.5" x2="1259.0" y2="691.5" stroke-width="2.0"/>
<text class="lab" x="1170.6" y="724.7" font-size="20" textLength="89.3" lengthAdjust="spacing">8307.66</text>
<line x1="1168.0" y1="718.0" x2="1261.0" y2="718.0" stroke-width="2.0"/>
<text class="lab" x="1171.6" y="751.5" font-size="20" textLength="87.3" lengthAdjust="spacing">8307.81</text>
<path d="M1170.0,655.0 L1161.7,655.0 L1161.7,702.4 L1170.0,702.4" stroke-width="2.3" fill="none" stroke-linejoin="miter" stroke-linecap="butt"/>
<path d="M1172.5,710.0 L1164.0,710.0 L1164.0,758.8 L1172.5,758.8" stroke-width="2.3" fill="none" stroke-linejoin="miter" stroke-linecap="butt"/>
<path d="M1261.0,652.8 L1270.0,652.8 L1270.0,756.5 L1261.0,756.5" stroke-width="2.3" fill="none" stroke-linejoin="miter" stroke-linecap="butt"/>
<path d="M1117.4,678.4 L1135.4,673.8 L1135.4,683.0Z" fill="#000" stroke="none"/>
<path d="M1117.4,678.4 L1135.4,673.8 L1153.4,678.4 L1135.4,683.0Z" fill="none" stroke-width="2.1" stroke-linejoin="round"/>
<path d="M1156.8,730.8 L1138.3,726.2 L1138.3,735.4Z" fill="#000" stroke="none"/>
<path d="M1119.8,730.8 L1138.3,726.2 L1156.8,730.8 L1138.3,735.4Z" fill="none" stroke-width="2.1" stroke-linejoin="round"/>
<path d="M1271.0,704.8 L1338.7,703.4 L1394.6,754.0" stroke-width="1.8" fill="none"/>
<text class="lab" x="1639.8" y="525.0" font-size="20" textLength="91.6" lengthAdjust="spacing">8306.70</text>
<text class="lab" x="1639.8" y="551.8" font-size="20" textLength="88.1" lengthAdjust="spacing">8306.47</text>
<line x1="1638.4" y1="544.2" x2="1734.0" y2="544.2" stroke-width="2.0"/>
<circle cx="1739" cy="540.8" r="3.2" fill="#000" stroke="none"/>
<text class="lab" x="1640.1" y="594.3" font-size="20" textLength="89.3" lengthAdjust="spacing">8307.47</text>
<line x1="1638.4" y1="588.4" x2="1729.9" y2="588.4" stroke-width="2.0"/>
<text class="lab" x="1641.6" y="619.4" font-size="20" textLength="88.1" lengthAdjust="spacing">8307.69</text>
<path d="M1643.0,504.6 L1629.7,504.6 L1629.7,625.1 L1643.0,625.1" stroke-width="2.3" fill="none" stroke-linejoin="miter" stroke-linecap="butt"/>
<path d="M1736.3,500.3 L1747.4,500.3 L1747.4,562.8 L1736.3,562.8" stroke-width="2.3" fill="none" stroke-linejoin="miter" stroke-linecap="butt"/>
<path d="M1737.0,575.0 L1748.0,575.0 L1748.0,622.8 L1737.0,622.8" stroke-width="2.3" fill="none" stroke-linejoin="miter" stroke-linecap="butt"/>
<path d="M1756.0,533.0 L1773.8,528.4 L1773.8,537.6Z" fill="#000" stroke="none"/>
<path d="M1756.0,533.0 L1773.8,528.4 L1791.6,533.0 L1773.8,537.6Z" fill="none" stroke-width="2.1" stroke-linejoin="round"/>
<path d="M1791.6,598.9 L1773.3,594.3 L1773.3,603.5Z" fill="#000" stroke="none"/>
<path d="M1755.0,598.9 L1773.3,594.3 L1791.6,598.9 L1773.3,603.5Z" fill="none" stroke-width="2.1" stroke-linejoin="round"/>
<path d="M1629.7,565.7 L1595.0,565.4 L1558.0,694.0" stroke-width="1.8" fill="none"/>
<text class="lab" x="1852.3" y="654.3" font-size="20" textLength="87.7" lengthAdjust="spacing">8322.37</text>
<line x1="1843.3" y1="648.0" x2="1952.6" y2="648.0" stroke-width="2.0"/>
<circle cx="1949" cy="644" r="3.2" fill="#000" stroke="none"/>
<text class="lab" x="1852.3" y="681.5" font-size="20" textLength="87.1" lengthAdjust="spacing">8322.41</text>
<text class="lab" x="1852.3" y="707.7" font-size="20" textLength="87.3" lengthAdjust="spacing">8322.38</text>
<line x1="1843.0" y1="700.0" x2="1951.4" y2="700.0" stroke-width="2.0"/>
<text class="lab" x="1852.3" y="733.1" font-size="20" textLength="87.3" lengthAdjust="spacing">8322.42</text>
<line x1="1841.5" y1="725.5" x2="1951.4" y2="725.5" stroke-width="2.0"/>
<path d="M1843.0,635.0 L1835.3,635.0 L1835.3,680.2 L1843.0,680.2" stroke-width="2.3" fill="none" stroke-linejoin="miter" stroke-linecap="butt"/>
<path d="M1841.0,684.6 L1832.8,684.6 L1832.8,734.9 L1841.0,734.9" stroke-width="2.3" fill="none" stroke-linejoin="miter" stroke-linecap="butt"/>
<path d="M1940.2,633.7 L1957.0,633.7 L1957.0,733.0 L1940.2,733.0" stroke-width="2.3" fill="none" stroke-linejoin="miter" stroke-linecap="butt"/>
<path d="M1790.0,657.9 L1808.0,653.3 L1808.0,662.5Z" fill="#000" stroke="none"/>
<path d="M1790.0,657.9 L1808.0,653.3 L1826.0,657.9 L1808.0,662.5Z" fill="none" stroke-width="2.1" stroke-linejoin="round"/>
<path d="M1824.0,710.7 L1806.4,706.1 L1806.4,715.3Z" fill="#000" stroke="none"/>
<path d="M1788.7,710.7 L1806.4,706.1 L1824.0,710.7 L1806.4,715.3Z" fill="none" stroke-width="2.1" stroke-linejoin="round"/>
<path d="M1958.8,684.3 L1980.0,684.6 L1996.7,779.0" stroke-width="1.8" fill="none"/>
<text class="lab" x="1191.8" y="1003.8" font-size="20" textLength="87.0" lengthAdjust="spacing">8306.57</text>
<line x1="1192.0" y1="997.3" x2="1278.4" y2="997.3" stroke-width="2.0"/>
<circle cx="1287.4" cy="991.8" r="3.2" fill="#000" stroke="none"/>
<text class="lab" x="1194.7" y="1035.8" font-size="20" textLength="86.4" lengthAdjust="spacing">8306.69</text>
<text class="lab" x="1194.6" y="1062.5" font-size="20" textLength="88.3" lengthAdjust="spacing">8307.68</text>
<text class="lab" x="1194.6" y="1089.4" font-size="20" textLength="88.8" lengthAdjust="spacing">8307.56</text>
<path d="M1193.0,985.0 L1185.2,985.0 L1185.2,1038.0 L1193.0,1038.0" stroke-width="2.3" fill="none" stroke-linejoin="miter" stroke-linecap="butt"/>
<path d="M1194.0,1045.6 L1185.8,1045.6 L1185.8,1097.4 L1194.0,1097.4" stroke-width="2.3" fill="none" stroke-linejoin="miter" stroke-linecap="butt"/>
<path d="M1281.9,981.0 L1295.9,981.0 L1295.9,1095.1 L1281.9,1095.1" stroke-width="2.3" fill="none" stroke-linejoin="miter" stroke-linecap="butt"/>
<path d="M1141.0,1029.3 L1159.3,1024.7 L1159.3,1033.9Z" fill="#000" stroke="none"/>
<path d="M1141.0,1029.3 L1159.3,1024.7 L1177.7,1029.3 L1159.3,1033.9Z" fill="none" stroke-width="2.1" stroke-linejoin="round"/>
<path d="M1179.4,1070.0 L1161.0,1065.4 L1161.0,1074.6Z" fill="#000" stroke="none"/>
<path d="M1142.7,1070.0 L1161.0,1065.4 L1179.4,1070.0 L1161.0,1074.6Z" fill="none" stroke-width="2.1" stroke-linejoin="round"/>
<path d="M1298.2,1032.8 L1312.2,1032.8 L1332.3,894.2" stroke-width="1.8" fill="none"/>
<text class="lab" x="1069.1" y="1306.8" font-size="22" textLength="93.4" lengthAdjust="spacing">8306.80</text>
<text class="lab" x="1070.2" y="1333.1" font-size="22" textLength="90.8" lengthAdjust="spacing">8306.54</text>
<circle cx="1167.3" cy="1321.2" r="3.2" fill="#000" stroke="none"/>
<text class="lab" x="1072.2" y="1359.3" font-size="22" textLength="88.8" lengthAdjust="spacing">8307.54</text>
<text class="lab" x="1072.7" y="1385.5" font-size="22" textLength="88.3" lengthAdjust="spacing">8307.79</text>
<path d="M1073.0,1287.2 L1063.6,1287.2 L1063.6,1338.1 L1073.0,1338.1" stroke-width="2.3" fill="none" stroke-linejoin="miter" stroke-linecap="butt"/>
<path d="M1075.0,1343.7 L1064.6,1343.7 L1064.6,1393.6 L1075.0,1393.6" stroke-width="2.3" fill="none" stroke-linejoin="miter" stroke-linecap="butt"/>
<path d="M1169.0,1285.1 L1180.2,1285.1 L1180.2,1393.6 L1169.0,1393.6" stroke-width="2.3" fill="none" stroke-linejoin="miter" stroke-linecap="butt"/>
<path d="M1016.0,1312.4 L1034.2,1307.8 L1034.2,1317.0Z" fill="#000" stroke="none"/>
<path d="M1016.0,1312.4 L1034.2,1307.8 L1052.5,1312.4 L1034.2,1317.0Z" fill="none" stroke-width="2.1" stroke-linejoin="round"/>
<path d="M1055.5,1365.4 L1037.2,1360.8 L1037.2,1370.0Z" fill="#000" stroke="none"/>
<path d="M1019.0,1365.4 L1037.2,1360.8 L1055.5,1365.4 L1037.2,1370.0Z" fill="none" stroke-width="2.1" stroke-linejoin="round"/>
<path d="M1181.7,1338.0 L1227.0,1335.6 L1262.0,1288.0 L1272.0,1275.0" stroke-width="1.8" fill="none"/>
<text class="lab" x="1541.1" y="1210.4" font-size="20" textLength="88.3" lengthAdjust="spacing">8319.50</text>
<circle cx="1642" cy="1200.2" r="3.2" fill="#000" stroke="none"/>
<text class="lab" x="1541.6" y="1253.8" font-size="20" textLength="88.5" lengthAdjust="spacing">8320.50</text>
<path d="M1547.5,1189.8 L1530.3,1189.8 L1530.3,1259.3 L1547.5,1259.3" stroke-width="2.3" fill="none" stroke-linejoin="miter" stroke-linecap="butt"/>
<path d="M1658.3,1200.3 L1676.0,1195.7 L1676.0,1204.9Z" fill="#000" stroke="none"/>
<path d="M1658.3,1200.3 L1676.0,1195.7 L1693.7,1200.3 L1676.0,1204.9Z" fill="none" stroke-width="2.1" stroke-linejoin="round"/>
<path d="M1693.7,1243.2 L1676.0,1238.6 L1676.0,1247.8Z" fill="#000" stroke="none"/>
<path d="M1658.3,1243.2 L1676.0,1238.6 L1693.7,1243.2 L1676.0,1247.8Z" fill="none" stroke-width="2.1" stroke-linejoin="round"/>
<path d="M1530.0,1223.9 L1388.7,1225.8" stroke-width="1.8" fill="none"/>
<text class="lab" x="1540.3" y="1039.6" font-size="20" textLength="87.9" lengthAdjust="spacing">8321.09</text>
<path d="M1633.4,1031.8 L1668.8,1031.8 L1688.4,1003.3" stroke-width="1.8" fill="none"/>
<text class="lab" x="1961.2" y="865.2" font-size="20" textLength="87.0" lengthAdjust="spacing">8315.14</text>
<path d="M1958.5,858.7 L1919.7,858.7 L1889.4,887.5" stroke-width="1.8" fill="none"/>
<text class="lab" x="1962.9" y="1057.7" font-size="20" textLength="89.7" lengthAdjust="spacing">8315.13</text>
<path d="M1959.0,1050.5 L1921.5,1050.1 L1878.0,969.4" stroke-width="1.8" fill="none"/>
<circle cx="1240" cy="1493.5" r="2.8" fill="#000"/>
<text x="1759.7" y="1516.0" font-size="20" font-family="Liberation Mono" textLength="64.6" lengthAdjust="spacing" class="thin">03/93</text>
<text x="1840.2" y="1516.0" font-size="20" font-family="Liberation Mono" textLength="39.0" lengthAdjust="spacing" class="thin">305</text>
<text x="1896.2" y="1516.0" font-size="20" font-family="Liberation Mono" textLength="66.6" lengthAdjust="spacing" class="thin">83A01</text>
<text x="1150.5" y="1609.5" font-size="40" textLength="70.0" lengthAdjust="spacing" style="stroke-width:0.3px">305</text>
<text x="1223.0" y="1609.5" font-size="19.6" textLength="281.0" lengthAdjust="spacing" style="stroke-width:0.6px">(0) - 06/93 Printed in France</text>
</g>
</svg>
</body></html>
